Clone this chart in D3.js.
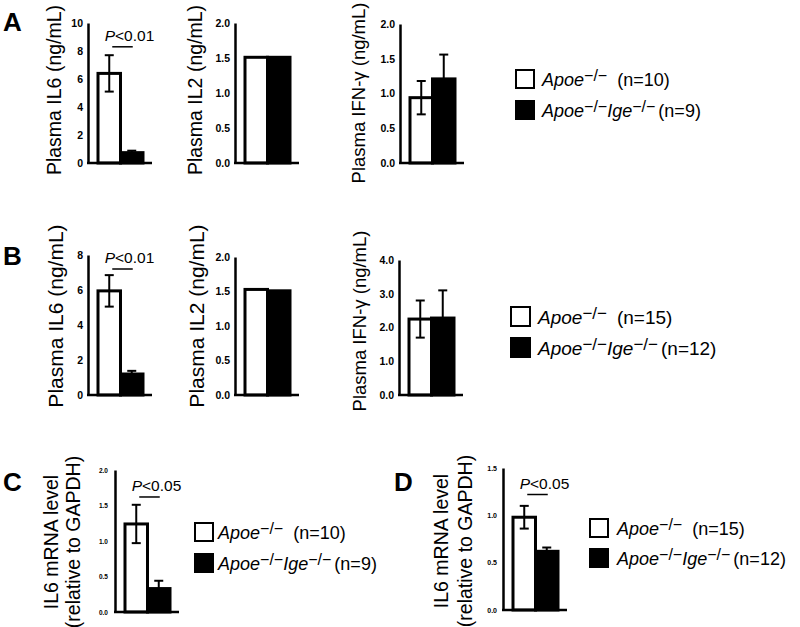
<!DOCTYPE html>
<html>
<head>
<meta charset="utf-8">
<script src="https://cdn.jsdelivr.net/npm/d3@7"></script>
<style>
  body { margin: 0; background: #fff; }
  svg { font-family: "Liberation Sans", Arial, sans-serif; }
  .tick text { font-weight: bold; fill: #000; }
  .domain { stroke: #000; stroke-width: 2.5px; }
</style>
</head>
<body>
<div id="chart"></div>
<script>
// groups shown in every panel
const groups = ["Apoe", "ApoeIge"];

// panel A (n=10 / n=9)
const aIL6 = [6.4, 0.74],  aIL6Err = [1.3, 0.14];
const aIL2 = [1.51, 1.51], aIL2Err = [0, 0];
const aIFN = [0.94, 1.21], aIFNErr = [0.24, 0.35];
// panel B (n=15 / n=12)
const bIL6 = [5.95, 1.2],  bIL6Err = [0.9, 0.18];
const bIL2 = [1.53, 1.51], bIL2Err = [0, 0];
const bIFN = [2.25, 2.28], bIFNErr = [0.55, 0.82];
// panels C and D, IL6 mRNA relative to GAPDH
const cMRNA = [1.24, 0.33], cMRNAErr = [0.27, 0.11];
const dMRNA = [0.98, 0.62], dMRNAErr = [0.12, 0.04];

// tick labels
const ticksIL6A = [0, 2, 4, 6, 8, 10];
const ticksIL6B = [0, 2, 4, 6, 8];
const ticksHalf2 = [0, 0.5, 1.0, 1.5, 2.0];
const ticksIFNB = [0, 1, 2, 3, 4];
const ticksHalf15 = [0, 0.5, 1.0, 1.5];

// significance annotations (label, bar height in data units)
const sigA = ["<0.01", 8.3];
const sigB = ["<0.01", 7.2];
const sigC = ["<0.05", 1.62];
const sigD = ["<0.05", 1.22];

// legend n values
const nA = ["10", "9"], nB = ["15", "12"], nC = ["10", "9"], nD = ["15", "12"];

const W = 800, H = 627;
const svg = d3.select('#chart').append('svg')
    .attr('width', W).attr('height', H);

// layout of each small chart
const panels = [
  { vals: aIL6, err: aIL6Err, ticks: ticksIL6A, max: 10, fmt: 'd', x0: 88, top: 23, bottom: 163, tf: 10.5, pad: 5,
    label: ["Plasma IL6 (ng/mL)"], lx: [61], ly: 90, lf: 19.5, sig: sigA },
  { vals: aIL2, err: aIL2Err, ticks: ticksHalf2, max: 2, fmt: '.1f', x0: 235, top: 23, bottom: 163, tf: 10.5, pad: 5,
    label: ["Plasma IL2 (ng/mL)"], lx: [202], ly: 90, lf: 19.5 },
  { vals: aIFN, err: aIFNErr, ticks: ticksHalf2, max: 2, fmt: '.1f', x0: 400, top: 24, bottom: 163, tf: 10.5, pad: 5,
    label: ["Plasma IFN-γ (ng/mL)"], lx: [365], ly: 93, lf: 18.5 },
  { vals: bIL6, err: bIL6Err, ticks: ticksIL6B, max: 8, fmt: 'd', x0: 88, top: 255, bottom: 395, tf: 10.5, pad: 5,
    label: ["Plasma IL6 (ng/mL)"], lx: [63], ly: 316, lf: 21, sig: sigB },
  { vals: bIL2, err: bIL2Err, ticks: ticksHalf2, max: 2, fmt: '.1f', x0: 235, top: 257, bottom: 395, tf: 10.5, pad: 5,
    label: ["Plasma IL2 (ng/mL)"], lx: [204], ly: 316, lf: 21 },
  { vals: bIFN, err: bIFNErr, ticks: ticksIFNB, max: 4, fmt: '.1f', x0: 399, top: 260, bottom: 395, tf: 10.5, pad: 5,
    label: ["Plasma IFN-γ (ng/mL)"], lx: [366], ly: 321, lf: 18.5 },
  { vals: cMRNA, err: cMRNAErr, ticks: ticksHalf2, max: 2, fmt: '.1f', x0: 115, top: 470, bottom: 612, tf: 6.5, pad: 7,
    label: ["IL6 mRNA level", "(relative to GAPDH)"], lx: [58, 80], ly: 542, lf: 19.5, sig: sigC },
  { vals: dMRNA, err: dMRNAErr, ticks: ticksHalf15, max: 1.5, fmt: '.1f', x0: 503, top: 468, bottom: 610, tf: 7, pad: 6,
    label: ["IL6 mRNA level", "(relative to GAPDH)"], lx: [448, 472], ly: 541, lf: 19.5, sig: sigD }
];

const legends = [
  { x: 516, y: 70, size: 18, gap: 31, tx: 542, f: 18, n: nA },
  { x: 511, y: 307, size: 19, gap: 31, tx: 538, f: 19, n: nB },
  { x: 195, y: 523, size: 18, gap: 31, tx: 218, f: 18, n: nC },
  { x: 590, y: 519, size: 18, gap: 30, tx: 617, f: 18, n: nD }
];

const letters = [
  { t: "A", x: 3, y: 31 },
  { t: "B", x: 3, y: 265 },
  { t: "C", x: 3, y: 491 },
  { t: "D", x: 394, y: 491 }
];

function drawPanel(p) {
  const y = d3.scaleLinear().domain([0, p.max]).range([p.bottom, p.top]);
  const x = d3.scaleBand().domain(groups).range([p.x0 + 10, p.x0 + 55]);
  const g = svg.append('g').attr('class', 'panel');

  // bars
  g.selectAll('rect.bar')
    .data(p.vals)
    .enter().append('rect')
      .attr('class', 'bar')
      .attr('x', (d, i) => x(groups[i]))
      .attr('width', x.bandwidth())
      .attr('y', d => y(d))
      .attr('height', d => y(0) - y(d))
      .attr('fill', (d, i) => i === 0 ? '#fff' : '#000')
      .attr('stroke', '#000')
      .attr('stroke-width', 3);

  // error bars
  p.vals.forEach((v, i) => {
    const e = p.err[i];
    if (!e) return;
    const cx = x(groups[i]) + x.bandwidth() / 2;
    g.append('line').attr('x1', cx).attr('x2', cx)
      .attr('y1', y(v - e)).attr('y2', y(v + e))
      .attr('stroke', '#000').attr('stroke-width', 2);
    [v + e, v - e].forEach(t => {
      g.append('line').attr('x1', cx - 4.5).attr('x2', cx + 4.5)
        .attr('y1', y(t)).attr('y2', y(t))
        .attr('stroke', '#000').attr('stroke-width', 2);
    });
  });

  // y axis
  const ax = g.append('g')
    .attr('transform', 'translate(' + p.x0 + ',0)')
    .call(d3.axisLeft(y).tickValues(p.ticks).tickSize(0).tickPadding(p.pad)
      .tickFormat(d3.format(p.fmt)));
  ax.selectAll('.tick text').style('font-size', p.tf + 'px');
  ax.select('.domain').attr('stroke-width', 2.5);

  // x axis baseline
  g.append('line')
    .attr('x1', p.x0 - 1).attr('x2', p.x0 + 64)
    .attr('y1', y(0)).attr('y2', y(0))
    .attr('stroke', '#000').attr('stroke-width', 2.5);

  // y label
  p.label.forEach((t, i) => {
    g.append('text')
      .attr('transform', 'translate(' + p.lx[i] + ',' + p.ly + ') rotate(-90)')
      .style('text-anchor', 'middle')
      .style('font-size', p.lf + 'px')
      .text(t);
  });

  // significance
  if (p.sig) {
    const x1 = x(groups[0]) + x.bandwidth() / 2 + 3;
    const x2 = x(groups[1]) + x.bandwidth() / 2 + 1;
    const sy = y(p.sig[1]);
    g.append('line').attr('class', 'sig')
      .attr('x1', x1).attr('x2', x2)
      .attr('y1', sy).attr('y2', sy)
      .attr('stroke', '#000').attr('stroke-width', 1.5);
    const st = g.append('text').attr('class', 'sig')
      .attr('x', (x(groups[0]) + x(groups[1]) + x.bandwidth()) / 2 + 9)
      .attr('y', sy - 6)
      .attr('fill', '#000')
      .style('text-anchor', 'middle')
      .style('font-size', '15.5px');
    st.append('tspan').style('font-style', 'italic').text('P');
    st.append('tspan').text(p.sig[0]);
  }
}

function drawLegend(l) {
  const g = svg.append('g').attr('class', 'legend');
  groups.forEach((grp, i) => {
    const by = l.y + i * l.gap;
    g.append('rect')
      .attr('x', l.x).attr('y', by)
      .attr('width', l.size).attr('height', l.size)
      .attr('fill', i === 0 ? '#fff' : '#000')
      .attr('stroke', '#000').attr('stroke-width', 2);
    const t = g.append('text')
      .attr('x', l.tx).attr('y', by + l.size - 2)
      .style('font-size', l.f + 'px');
    t.append('tspan').style('font-style', 'italic').text('Apoe');
    t.append('tspan').style('font-size', (l.f - 2) + 'px').attr('dy', -5).text('−/−');
    if (i === 1) {
      t.append('tspan').style('font-style', 'italic').attr('dy', 5).text('Ige');
      t.append('tspan').style('font-size', (l.f - 2) + 'px').attr('dy', -5).text('−/−');
      t.append('tspan').attr('dy', 5).attr('dx', 3).text('(n=' + l.n[1] + ')');
    } else {
      t.append('tspan').attr('dy', 5).attr('dx', 10).text('(n=' + l.n[0] + ')');
    }
  });
}

panels.forEach(drawPanel);
legends.forEach(drawLegend);

svg.selectAll('text.letter')
  .data(letters)
  .enter().append('text')
    .attr('class', 'letter')
    .attr('x', d => d.x).attr('y', d => d.y)
    .style('font-size', '26px')
    .style('font-weight', 'bold')
    .text(d => d.t);
</script>
</body>
</html>
